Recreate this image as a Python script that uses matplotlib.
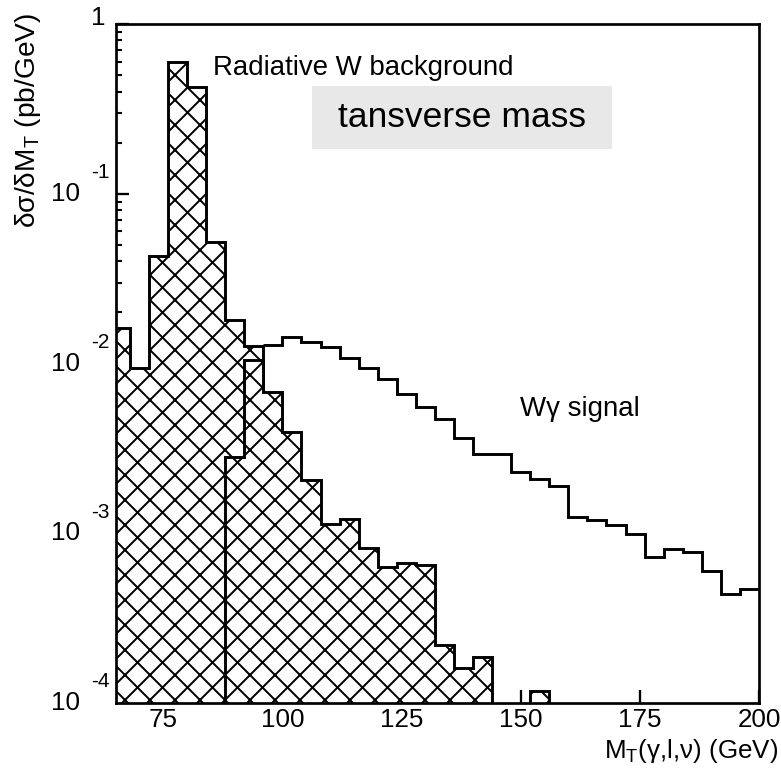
import numpy as np
import matplotlib.pyplot as plt
from matplotlib.patches import Rectangle
from matplotlib.ticker import LogLocator, NullFormatter, FixedLocator

plt.rcParams['font.family'] = ['Liberation Sans', 'DejaVu Sans']
plt.rcParams['mathtext.fontset'] = 'custom'
plt.rcParams['mathtext.rm'] = 'Liberation Sans'
plt.rcParams['hatch.linewidth'] = 1.9

# W peak (radiative background), 4 GeV bins
peak_edges = [64, 68, 72, 76, 80, 84, 88, 92, 96]
peak_vals = [0.0161, 0.00936, 0.0430, 0.600, 0.424, 0.0521, 0.0180, 0.0127]

# tail of the radiative background
tail_edges = [88, 92, 96, 100, 104, 108, 112, 116, 120, 124, 128, 132,
              136, 140, 144, 148, 152, 156]
tail_vals = [0.00282, 0.0105, 0.00681, 0.00393, 0.00206, 0.00114, 0.00122,
             0.00082, 0.000634, 0.00067, 0.00065, 0.000219, 0.000160,
             0.000187, 0, 0, 0.000118]

# W gamma signal
sig_edges = [96, 100, 104, 108, 112, 116, 120, 124, 128, 132, 136, 140, 144,
             148, 152, 156, 160, 164, 168, 172, 176, 180, 184, 188, 192, 196, 200]
sig_vals = [0.0128, 0.01437, 0.01345, 0.0125, 0.01079, 0.0094, 0.0081,
            0.00665, 0.00557, 0.00474, 0.00364, 0.00292, 0.00292, 0.0023,
            0.00209, 0.00189, 0.00125, 0.00119, 0.00112, 0.00099, 0.000725,
            0.00081, 0.000777, 0.000597, 0.00044, 0.000472]

xticks = [75, 100, 125, 150, 175, 200]
ydecades = [-4, -3, -2, -1]

fig = plt.figure(figsize=(782 / 75, 769 / 75), dpi=75)
ax = fig.add_axes([0.1478, 0.0858, 0.8228, 0.8830])
ax.set_yscale('log', nonpositive='clip')

ax.stairs(peak_vals, peak_edges, baseline=0, fill=True, facecolor='white',
          edgecolor='black', hatch='x', linewidth=2.8, zorder=2)
ax.stairs(tail_vals, tail_edges, baseline=0, fill=True, facecolor='white',
          edgecolor='black', hatch='x', linewidth=2.8, zorder=3)
ax.stairs(sig_vals, sig_edges, baseline=None, color='black', linewidth=2.8,
          zorder=4)

ax.set_xlim(65, 200)
ax.set_ylim(1e-4, 1)

for s in ax.spines.values():
    s.set_linewidth(2.6)
    s.set_zorder(5)

ax.xaxis.set_major_locator(FixedLocator(xticks))
ax.xaxis.set_minor_locator(FixedLocator([]))
ax.yaxis.set_major_locator(LogLocator(base=10, numticks=10))
ax.yaxis.set_minor_locator(LogLocator(base=10, subs=np.arange(2, 10), numticks=10))
ax.yaxis.set_major_formatter(NullFormatter())
ax.yaxis.set_minor_formatter(NullFormatter())
ax.tick_params(which='major', direction='in', length=12.5, width=2.2,
               top=False, right=False, labelsize=25, pad=5)
ax.tick_params(which='minor', direction='in', length=6, width=2,
               top=False, right=False)

# y tick labels drawn as "10" plus a raised exponent
ytr = ax.get_yaxis_transform()
for d in ydecades:
    ax.text(-0.0553, 10.0 ** d, '10', transform=ytr, ha='right', va='center',
            fontsize=25)
    ax.text(-0.0380, 10.0 ** d * 1.33, str(d), transform=ytr, ha='left',
            va='center', fontsize=20)
ax.text(-0.0274, 1.0 * 10 ** 0.035, '1', transform=ytr, ha='center',
        va='center', fontsize=25)

fig.text(0.036, 0.983, 'δσ/δM$_\\mathregular{T}$ (pb/GeV)', rotation=90,
         ha='center', va='top', fontsize=27)
fig.text(0.995, 0.014, 'M$_\\mathregular{T}$(γ,l,ν) (GeV)', ha='right',
         va='baseline', fontsize=25)

ax.text(0.1514, 0.925, 'Radiative W background', transform=ax.transAxes,
        ha='left', va='baseline', fontsize=26.5, zorder=6)
ax.add_patch(Rectangle((0.305, 0.816), 0.467, 0.0927, transform=ax.transAxes,
                       facecolor='#e8e8e8', edgecolor='none', zorder=6))
ax.text(0.5387, 0.862, 'tansverse mass', transform=ax.transAxes,
        ha='center', va='center', fontsize=34, zorder=7)
ax.text(0.6288, 0.4233, 'Wγ signal', transform=ax.transAxes,
        ha='left', va='baseline', fontsize=26.5, zorder=6)

fig.savefig('out.png', dpi=75)
